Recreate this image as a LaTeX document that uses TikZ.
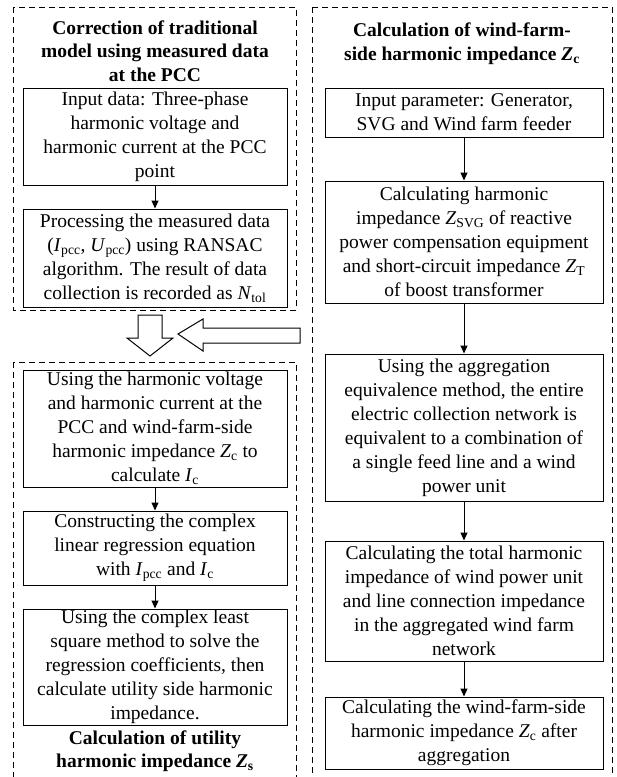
\documentclass[tikz,border=0pt]{standalone}
\usepackage{fontspec}
\setmainfont{Liberation Serif}
\usetikzlibrary{positioning}
\usetikzlibrary{arrows.meta}
\newcommand{\qsub}[2]{\textit{#1}\textsubscript{#2}}

\begin{document}
\begin{tikzpicture}[x=1pt,y=-1pt,node distance=23pt,
   box/.style={draw,line width=1pt,align=center,inner sep=0pt,font=\fontsize{19.5}{24}\selectfont},
   lbox/.style={box,minimum width=264pt},
   rbox/.style={box,minimum width=278pt},
   ttl/.style={align=center,inner sep=0pt,font=\fontsize{19.5}{23.5}\selectfont\bfseries},
   dashframe/.style={line width=1pt,dash pattern=on 6pt off 4pt},
   blockarrow/.style={line width=1pt,fill=white,line join=miter}]
   \useasboundingbox (0,0) rectangle (617,777);
   \clip (0,0) rectangle (617,777);
   \draw[dashframe] (13,7) rectangle (296,310);
   \draw[dashframe] (13,362) rectangle (296,800);
   \draw[dashframe] (312,7) rectangle (612,800);

   \node[ttl] (t_1) at (155,51) {Correction of traditional\\model using measured data\\at the PCC};
   \node[ttl] (t_2) at (462,43.5) {Calculation of wind-farm-\\side harmonic impedance \textit{Z}\textsubscript{c}};
   \node[ttl] (t_3) at (155,751) {Calculation of utility\\harmonic impedance \textit{Z}\textsubscript{s}};

   \node[lbox,minimum height=97pt] (l_1) at (155,136.5) {Input data: Three-phase\\harmonic voltage and\\harmonic current at the PCC\\point};
   \node[lbox,minimum height=98pt] (l_2) [below=of l_1] {Processing the measured data\\(\qsub{I}{pcc}, \qsub{U}{pcc}) using RANSAC\\algorithm. The result of data\\collection is recorded as \qsub{N}{tol}};
   \node[lbox,minimum height=117pt] (l_3) at (155,428.5) {Using the harmonic voltage\\and harmonic current at the\\PCC and wind-farm-side\\harmonic impedance \qsub{Z}{c} to\\calculate \qsub{I}{c}};
   \node[lbox,minimum height=74pt] (l_4) [below=of l_3] {Constructing the complex\\linear regression equation\\with \qsub{I}{pcc} and \qsub{I}{c}};
   \node[lbox,minimum height=116pt] (l_5) [below=of l_4] {Using the complex least\\square method to solve the\\regression coefficients, then\\calculate utility side harmonic\\impedance.};

   \node[rbox,minimum height=49pt] (r_1) at (464,112.5) {Input parameter: Generator,\\SVG and Wind farm feeder};
   \node[rbox,minimum height=122pt] (r_2) [below=43pt of r_1] {Calculating harmonic\\impedance \qsub{Z}{SVG} of reactive\\power compensation equipment\\and short-circuit impedance \qsub{Z}{T}\\of boost transformer};
   \node[rbox,minimum height=147pt] (r_3) [below=50pt of r_2] {Using the aggregation\\equivalence method, the entire\\electric collection network is\\equivalent to a combination of\\a single feed line and a wind\\power unit};
   \node[rbox,minimum height=120pt] (r_4) [below=39pt of r_3] {Calculating the total harmonic\\impedance of wind power unit\\and line connection impedance\\in the aggregated wind farm\\network};
   \node[rbox,minimum height=72pt] (r_5) [below=35pt of r_4] {Calculating the wind-farm-side\\harmonic impedance \qsub{Z}{c} after\\aggregation};

   \path[-{Triangle[length=8pt,width=7pt]},line width=1pt]
   (l_1) edge (l_2)
   (l_3) edge (l_4)
   (l_4) edge (l_5)
   (r_1) edge (r_2)
   (r_2) edge (r_3)
   (r_3) edge (r_4)
   (r_4) edge (r_5);

   \draw[blockarrow] (138,315) -- (162,315) -- (162,338) -- (173,338) -- (150,356)
      -- (127,338) -- (138,338) -- cycle;
   \draw[blockarrow] (300,328) -- (203,328) -- (203,319) -- (178,334) -- (203,351)
      -- (203,343) -- (300,343) -- cycle;
\end{tikzpicture}
\end{document}
